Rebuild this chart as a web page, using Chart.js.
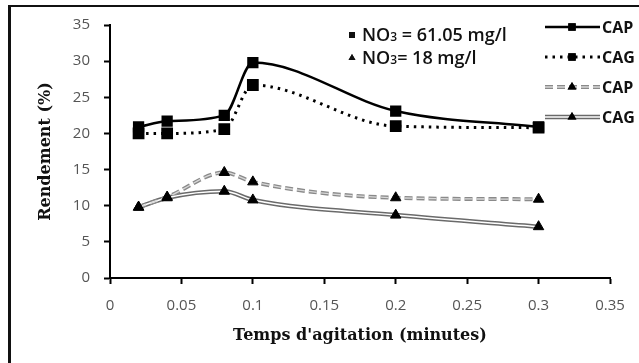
<!DOCTYPE html>
<html>
<head>
<meta charset="utf-8">
<script src="https://cdn.jsdelivr.net/npm/chart.js@4.4.1/dist/chart.umd.min.js"></script>
<style>
  html, body { margin: 0; padding: 0; background: #fff; }
  #wrap { width: 639px; height: 363px; }
</style>
</head>
<body>
<div id="wrap"><canvas id="rendement"></canvas></div>
<script>
// temps d'agitation (minutes)
const TEMPS = [0.02, 0.04, 0.08, 0.1, 0.2, 0.3];

// NO3 = 61.05 mg/l
const CAP_61 = [20.9, 21.7, 22.5, 29.8, 23.1, 20.9];
const CAG_61 = [20.0, 20.0, 20.6, 26.7, 21.0, 20.8];
// NO3 = 18 mg/l
const CAP_18 = [9.8, 11.2, 14.6, 13.3, 11.1, 10.9];
const CAG_18 = [9.8, 11.1, 12.0, 10.8, 8.7, 7.1];

const X_TICKS = [0, 0.05, 0.1, 0.15, 0.2, 0.25, 0.3, 0.35];
const Y_TICKS = [0, 5, 10, 15, 20, 25, 30, 35];

const LEGEND_LABELS = ['CAP', 'CAG', 'CAP', 'CAG'];

function pts(arr) {
    return TEMPS.map((t, i) => ({ x: t, y: arr[i] }));
}

const SMOOTH = { cubicInterpolationMode: 'monotone' };

const datasets = [
    // points on top
    { label: 'CAP 61', data: pts(CAP_61), borderColor: '#000', backgroundColor: '#000', borderWidth: 2.5,
      pointStyle: 'rect', pointRadius: 6.2, ...SMOOTH, order: 0 },
    { label: 'CAG 61', data: pts(CAG_61), borderColor: '#000', backgroundColor: '#000', borderWidth: 3,
      borderDash: [2.5, 5], pointStyle: 'rect', pointRadius: 6.2, ...SMOOTH, order: 1 },
    // 18 mg/l : gray base line, light inner line, then markers
    { label: 'CAP 18 base', data: pts(CAP_18), borderColor: '#8a8a8a', borderWidth: 4,
      borderDash: [8, 4], pointRadius: 0, ...SMOOTH, order: 6 },
    { label: 'CAP 18 inner', data: pts(CAP_18), borderColor: '#d8d8d8', borderWidth: 1.3,
      borderDash: [8, 4], pointRadius: 0, ...SMOOTH, order: 5 },
    { label: 'CAG 18 base', data: pts(CAG_18), borderColor: '#6a6a6a', borderWidth: 4.5,
      pointRadius: 0, ...SMOOTH, order: 6 },
    { label: 'CAG 18 inner', data: pts(CAG_18), borderColor: '#ffffff', borderWidth: 1.5,
      pointRadius: 0, ...SMOOTH, order: 5 },
    { label: 'CAP 18', data: pts(CAP_18), showLine: false, backgroundColor: '#000', borderColor: '#000',
      pointStyle: 'triangle', pointRadius: 6, order: 2 },
    { label: 'CAG 18', data: pts(CAG_18), showLine: false, backgroundColor: '#000', borderColor: '#000',
      pointStyle: 'triangle', pointRadius: 6, order: 3 }
];

// frame, axis titles, NO3 notes and the line legend
const decorations = {
    id: 'decorations',
    afterDraw(chart) {
        const ctx = chart.ctx;
        const area = chart.chartArea;
        ctx.save();

        // outer frame (top + left only)
        ctx.fillStyle = '#111';
        ctx.fillRect(8, 5, 639 - 8, 2);
        ctx.fillRect(8, 5, 3, 363 - 5);

        // axis titles
        ctx.fillStyle = '#111';
        ctx.font = 'bold 16px "DejaVu Serif", "Liberation Serif", serif';
        ctx.textAlign = 'center';
        ctx.textBaseline = 'middle';
        ctx.fillText("Temps d'agitation (minutes)", (area.left + area.right) / 2, 336);
        ctx.save();
        ctx.translate(46, (area.top + area.bottom) / 2);
        ctx.rotate(-Math.PI / 2);
        ctx.fillText('Rendement (%)', 0, 0);
        ctx.restore();

        // NO3 notes
        ctx.textAlign = 'left';
        ctx.textBaseline = 'alphabetic';
        const notes = [
            { y: 35, mark: 'rect', rest: ' = 61.05 mg/l' },
            { y: 58, mark: 'triangle', rest: '= 18 mg/l' }
        ];
        notes.forEach(n => {
            const base = n.y + 6;
            Chart.helpers.drawPoint(ctx, { pointStyle: n.mark, radius: n.mark === 'rect' ? 4.2 : 4, rotation: 0, borderWidth: 0 }, 352, n.y);
            ctx.fillStyle = '#111';
            ctx.fill();
            ctx.font = '600 18px "Open Sans", sans-serif';
            let x = 362;
            ctx.fillText('NO', x, base);
            x += ctx.measureText('NO').width;
            ctx.font = '600 12px "Open Sans", sans-serif';
            ctx.fillText('3', x, base);
            x += ctx.measureText('3').width;
            ctx.font = '600 18px "Open Sans", sans-serif';
            ctx.fillText(n.rest, x, base);
        });

        // line legend
        const rows = [
            { y: 27, base: 0 },
            { y: 57, base: 1 },
            { y: 87, base: 2, inner: 3, marker: 6 },
            { y: 117, base: 4, inner: 5, marker: 7 }
        ];
        const x0 = 545, x1 = 600;
        rows.forEach((r, i) => {
            const layers = [r.base, r.inner].filter(v => v !== undefined);
            layers.forEach(k => {
                const ds = chart.data.datasets[k];
                ctx.save();
                ctx.strokeStyle = ds.borderColor;
                ctx.lineWidth = ds.borderWidth;
                ctx.setLineDash(ds.borderDash || []);
                ctx.beginPath();
                ctx.moveTo(x0, r.y);
                ctx.lineTo(x1, r.y);
                ctx.stroke();
                ctx.restore();
            });
            const md = chart.data.datasets[r.marker !== undefined ? r.marker : r.base];
            Chart.helpers.drawPoint(ctx, { pointStyle: md.pointStyle, radius: md.pointRadius * 0.85, rotation: 0, borderWidth: 0 }, 572, r.y);
            ctx.fillStyle = '#000';
            ctx.fill();
            ctx.fillStyle = '#111';
            ctx.font = 'bold 16px "Open Sans", sans-serif';
            ctx.textBaseline = 'middle';
            ctx.fillText(LEGEND_LABELS[i], 602, r.y + 1);
        });

        ctx.restore();
    }
};

new Chart(document.getElementById('rendement'), {
    type: 'line',
    data: { datasets: datasets },
    options: {
        responsive: true,
        maintainAspectRatio: false,
        animation: false,
        layout: { padding: { top: 25, right: 29, left: 0, bottom: 0 } },
        plugins: {
            legend: { display: false },
            tooltip: { enabled: false }
        },
        scales: {
            x: {
                type: 'linear',
                min: 0,
                max: 0.35,
                afterFit: s => { s.height = 85; },
                afterBuildTicks: s => { s.ticks = X_TICKS.map(v => ({ value: v })); },
                ticks: {
                    color: '#555',
                    font: { family: '"Open Sans", sans-serif', size: 15 },
                    padding: 13,
                    maxRotation: 0,
                    autoSkip: false,
                    callback: v => String(Number(v.toFixed(2)))
                },
                grid: { drawOnChartArea: false, drawTicks: true, tickLength: 6, tickColor: '#000', tickWidth: 2 },
                border: { display: true, color: '#000', width: 2 }
            },
            y: {
                min: 0,
                max: 35,
                afterFit: s => { s.width = 110; },
                afterBuildTicks: s => { s.ticks = Y_TICKS.map(v => ({ value: v })); },
                ticks: {
                    color: '#555',
                    font: { family: '"Open Sans", sans-serif', size: 15 },
                    padding: 14,
                    autoSkip: false
                },
                grid: { drawOnChartArea: false, drawTicks: true, tickLength: 6, tickColor: '#000', tickWidth: 2 },
                border: { display: true, color: '#000', width: 2 }
            }
        }
    },
    plugins: [decorations]
});
</script>
</body>
</html>
